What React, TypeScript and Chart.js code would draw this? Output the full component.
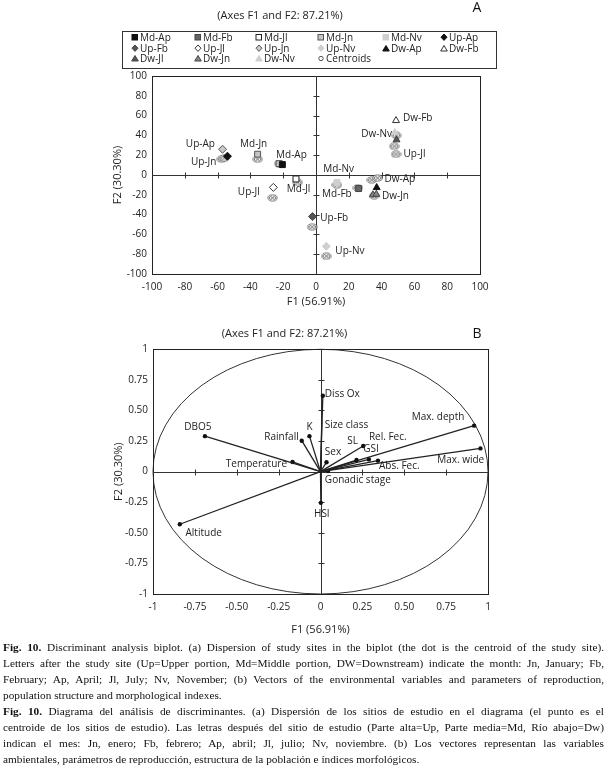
import React, { useEffect, useRef } from "react";
import { Chart, registerables } from "chart.js";
Chart.register(...registerables);

const FONT = "'Open Sans', 'Noto Sans', sans-serif";
const SERIF = "'Liberation Serif', 'DejaVu Serif', serif";

// ---------------- Chart A data ----------------
const titleA = "(Axes F1 and F2: 87.21%)";
const titleB = "(Axes F1 and F2: 87.21%)";
const axisTitleX = "F1 (56.91%)";
const axisTitleY = "F2 (30.30%)";

const siteNames = ["Md-Ap", "Md-Fb", "Md-Jl", "Md-Jn", "Md-Nv", "Up-Ap", "Up-Fb", "Up-Jl", "Up-Jn", "Up-Nv", "Dw-Ap", "Dw-Fb", "Dw-Jl", "Dw-Jn", "Dw-Nv"];

const pointSite = ["Md-Ap", "Md-Jn", "Md-Jn", "Md-Jl", "Md-Nv", "Md-Fb", "Up-Ap", "Up-Jn", "Up-Jl", "Up-Fb", "Up-Nv", "Dw-Fb", "Dw-Nv", "Dw-Jl", "Dw-Ap", "Dw-Jn", "Dw-Jn"];
const pointF1 = [-20.5, -22.5, -35.6, -12.2, 12.8, 26, -54, -57, -26, -2.1, 6.3, 48.8, 48, 49.1, 37, 34.7, 36.8];
const pointF2 = [10.5, 11.5, 21, -4, -7.5, -13.7, 19, 26, -12.5, -42, -72, 55, 43, 35.5, -12.7, -20, -19.5];

const centroidF1 = [-57.5, -56, -35.6, -22.5, -11.2, -26.5, 12.8, 25.5, -2.4, 6.3, 49, 47.7, 48.8, 34, 37.6, 35.5];
const centroidF2 = [16, 17, 16, 11.5, -7.5, -23, -10, -13, -52.5, -82, 40, 29, 21, -5, -3, -21];

const siteLabelText = ["Up-Ap", "Up-Jn", "Md-Jn", "Md-Ap", "Up-Jl", "Md-Jl", "Md-Nv", "Md-Fb", "Up-Fb", "Up-Nv", "Dw-Fb", "Dw-Nv", "Up-Jl", "Dw-Ap", "Dw-Jn"];
const siteLabelF1 = [-70.5, -68.5, -38, -15, -41, -10.6, 13.8, 3.7, 2.6, 11.8, 53, 46.3, 53.4, 41.8, 40.2];
const siteLabelF2 = [31, 12.5, 31, 20, -17.8, -14.4, 5.8, -19.5, -44, -76.8, 57, 41, 21, -4.3, -21.2];
const siteLabelAlign = ["center", "center", "center", "center", "center", "center", "center", "left", "left", "left", "left", "right", "left", "left", "left"];

// ---------------- Chart B data ----------------
const vectorNames = ["DBO5", "Rainfall", "K", "Temperature", "Altitude", "Diss Ox", "Size class", "Sex", "SL", "Rel. Fec.", "GSI", "Abs. Fec.", "Max. depth", "Max. wide", "Gonadic stage", "HSI"];
const vectorF1 = [-0.69, -0.112, -0.066, -0.167, -0.84, 0.014, 0.008, 0.036, 0.255, 0.215, 0.289, 0.343, 0.917, 0.955, 0.045, 0.002];
const vectorF2 = [0.29, 0.253, 0.29, 0.079, -0.43, 0.62, 0.42, 0.077, 0.21, 0.095, 0.1, 0.09, 0.376, 0.19, 0.005, -0.255];
const vectorLabelF1 = [-0.732, -0.13, -0.066, -0.2, -0.806, 0.026, 0.026, 0.026, 0.223, 0.289, 0.255, 0.349, 0.859, 0.977, 0.026, 0.008];
const vectorLabelF2 = [0.367, 0.283, 0.362, 0.065, -0.503, 0.634, 0.379, 0.158, 0.253, 0.286, 0.183, 0.041, 0.444, 0.09, -0.073, -0.345];
const vectorLabelAlign = ["center", "right", "center", "right", "left", "left", "left", "left", "right", "left", "left", "left", "right", "right", "left", "center"];

const tickValuesB = [-1, -0.75, -0.5, -0.25, 0, 0.25, 0.5, 0.75, 1];
const tickLabelsB = ["-1", "-0.75", "-0.50", "-0.25", "0", "0.25", "0.50", "0.75", "1"];

// ---------------- caption ----------------
const captionEn = [
  " Discriminant analysis biplot. (a) Dispersion of study sites in the biplot (the dot is the centroid of the study site).",
  "Letters after the study site (Up=Upper portion, Md=Middle portion, DW=Downstream) indicate the month: Jn, January; Fb,",
  "February; Ap, April; Jl, July; Nv, November; (b) Vectors of the environmental variables and parameters of reproduction,",
  "population structure and morphological indexes.",
];
const captionEs = [
  " Diagrama del análisis de discriminantes. (a) Dispersión de los sitios de estudio en el diagrama (el punto es el",
  "centroide de los sitios de estudio). Las letras después del sitio de estudio (Parte alta=Up, Parte media=Md, Río abajo=Dw)",
  "indican el mes: Jn, enero; Fb, febrero; Ap, abril; Jl, julio; Nv, noviembre. (b) Los vectores representan las variables",
  "ambientales, parámetros de reproducción, estructura de la población e índices morfológicos.",
];

type Sty = { shape: string; fill: string; stroke: string };
const siteStyle: Record<string, Sty> = {
  "Md-Ap": { shape: "rect", fill: "#111", stroke: "#111" },
  "Md-Fb": { shape: "rect", fill: "#666", stroke: "#444" },
  "Md-Jl": { shape: "rect", fill: "#fff", stroke: "#222" },
  "Md-Jn": { shape: "rect", fill: "#c4c4c4", stroke: "#555" },
  "Md-Nv": { shape: "rect", fill: "#cfcfcf", stroke: "#cfcfcf" },
  "Up-Ap": { shape: "rectRot", fill: "#111", stroke: "#111" },
  "Up-Fb": { shape: "rectRot", fill: "#555", stroke: "#444" },
  "Up-Jl": { shape: "rectRot", fill: "#fff", stroke: "#333" },
  "Up-Jn": { shape: "rectRot", fill: "#c8c8c8", stroke: "#555" },
  "Up-Nv": { shape: "rectRot", fill: "#cfcfcf", stroke: "#cfcfcf" },
  "Dw-Ap": { shape: "triangle", fill: "#111", stroke: "#111" },
  "Dw-Fb": { shape: "triangle", fill: "#fff", stroke: "#333" },
  "Dw-Jl": { shape: "triangle", fill: "#555", stroke: "#444" },
  "Dw-Jn": { shape: "triangle", fill: "#888", stroke: "#444" },
  "Dw-Nv": { shape: "triangle", fill: "#cfcfcf", stroke: "#cfcfcf" },
};

function frameAndAxes(id: string, crossTick: number) {
  return {
    id,
    beforeDatasetsDraw(chart: any) {
      const { ctx, chartArea: a, scales } = chart;
      const xs = scales.x, ys = scales.y;
      const x0 = Math.round(xs.getPixelForValue(0)) + 0.5;
      const y0 = Math.round(ys.getPixelForValue(0)) + 0.5;
      ctx.save();
      ctx.strokeStyle = "#222";
      ctx.lineWidth = 1;
      ctx.strokeRect(Math.round(a.left) + 0.5, Math.round(a.top) + 0.5, Math.round(a.right - a.left), Math.round(a.bottom - a.top));
      ctx.strokeStyle = "#333";
      ctx.beginPath();
      ctx.moveTo(a.left, y0); ctx.lineTo(a.right, y0);
      ctx.moveTo(x0, a.top); ctx.lineTo(x0, a.bottom);
      xs.ticks.forEach((t: any) => {
        if (t.value === 0 || t.value === xs.min || t.value === xs.max) return;
        const px = Math.round(xs.getPixelForValue(t.value)) + 0.5;
        ctx.moveTo(px, y0 - crossTick); ctx.lineTo(px, y0 + crossTick);
      });
      ys.ticks.forEach((t: any) => {
        if (t.value === 0 || t.value === ys.min || t.value === ys.max) return;
        const py = Math.round(ys.getPixelForValue(t.value)) + 0.5;
        ctx.moveTo(x0 - crossTick, py); ctx.lineTo(x0 + crossTick, py);
      });
      ctx.stroke();
      ctx.restore();
    },
  };
}

function textLabels(id: string, texts: string[], xs: number[], ys: number[], aligns: string[], font: string, corner: string) {
  return {
    id,
    afterDatasetsDraw(chart: any) {
      const { ctx, scales } = chart;
      ctx.save();
      ctx.font = font;
      ctx.fillStyle = "#222";
      ctx.textBaseline = "middle";
      texts.forEach((t, i) => {
        ctx.textAlign = aligns[i];
        ctx.fillText(t, scales.x.getPixelForValue(xs[i]), scales.y.getPixelForValue(ys[i]));
      });
      ctx.font = `14px ${FONT}`;
      ctx.textAlign = "center";
      ctx.fillStyle = "#111";
      ctx.fillText(corner, 477, chart.options.cornerY);
      ctx.restore();
    },
  };
}

const ellipsePlugin = {
  id: "unitCircle",
  beforeDatasetsDraw(chart: any) {
    const { ctx, scales } = chart;
    const cx = scales.x.getPixelForValue(0), cy = scales.y.getPixelForValue(0);
    const rx = scales.x.getPixelForValue(1) - cx, ry = cy - scales.y.getPixelForValue(1);
    ctx.save();
    ctx.strokeStyle = "#333";
    ctx.lineWidth = 1;
    ctx.beginPath();
    ctx.ellipse(cx, cy, rx, ry, 0, 0, Math.PI * 2);
    ctx.stroke();
    ctx.restore();
  },
};

function LegendMarker({ name }: { name: string }) {
  if (name === "Centroids") {
    return (
      <svg width="8" height="8" style={{ display: "block" }}>
        <circle cx="4" cy="4.5" r="2.2" fill="#fff" stroke="#555" strokeWidth="1" />
      </svg>
    );
  }
  const s = siteStyle[name];
  let shape: any;
  if (s.shape === "rect") shape = <rect x="1" y="1.5" width="5.5" height="5.5" fill={s.fill} stroke={s.stroke} strokeWidth="1" />;
  else if (s.shape === "rectRot") shape = <polygon points="4,1 7,4.2 4,7.4 1,4.2" fill={s.fill} stroke={s.stroke} strokeWidth="1" />;
  else shape = <polygon points="4,1.5 7.3,7 0.7,7" fill={s.fill} stroke={s.stroke} strokeWidth="1" />;
  return (
    <svg width="8" height="8" style={{ display: "block" }}>
      {shape}
    </svg>
  );
}

export default function App() {
  const refA = useRef<HTMLCanvasElement>(null);
  const refB = useRef<HTMLCanvasElement>(null);

  useEffect(() => {
    // centroid symbol
    const cen = document.createElement("canvas");
    cen.width = 11; cen.height = 8;
    const g = cen.getContext("2d")!;
    g.fillStyle = "#fff";
    g.strokeStyle = "#666"; g.lineWidth = 0.9;
    g.beginPath(); g.ellipse(5.5, 4, 4.6, 3.1, 0, 0, Math.PI * 2); g.fill(); g.stroke();
    g.beginPath(); g.ellipse(3.7, 4, 1.4, 1.5, 0, 0, Math.PI * 2); g.stroke();
    g.beginPath(); g.ellipse(7.3, 4, 1.4, 1.5, 0, 0, Math.PI * 2); g.stroke();

    const datasetsA: any[] = [
      {
        label: "Centroids",
        data: centroidF1.map((x, i) => ({ x, y: centroidF2[i] })),
        pointStyle: cen,
        pointRadius: 4,
        order: 1,
      },
    ];
    siteNames.forEach((n) => {
      const s = siteStyle[n];
      const data = pointSite
        .map((p, i) => (p === n ? { x: pointF1[i], y: pointF2[i] } : null))
        .filter((d) => d) as any[];
      datasetsA.push({
        label: n,
        data,
        order: 0,
        pointStyle: s.shape,
        pointRadius: s.shape === "rect" ? 4.2 : 4,
        backgroundColor: s.fill,
        borderColor: s.stroke,
        borderWidth: 1,
      });
    });

    const tickFont = { family: FONT, size: 10 };
    const titleFont = { family: FONT, size: 11, weight: "normal" };

    const chartA = new Chart(refA.current!, {
      type: "scatter",
      data: { datasets: datasetsA },
      options: {
        animation: false,
        responsive: false,
        events: [],
        cornerY: 8,
        layout: { padding: { left: 80, right: 134, top: 0, bottom: 0 } },
        plugins: {
          legend: { display: false },
          tooltip: { enabled: false },
          title: { display: true, text: titleA, font: titleFont, color: "#222", padding: { top: 9, bottom: 53.8 } },
        },
        scales: {
          x: {
            min: -100, max: 100,
            ticks: { stepSize: 20, font: tickFont, color: "#222", padding: 7, maxRotation: 0 },
            grid: { display: false, drawTicks: false },
            border: { display: false },
            title: { display: true, text: axisTitleX, font: titleFont, color: "#222", padding: { top: 0, bottom: 3.5 } },
            afterFit: (s: any) => { s.height = 38; },
          },
          y: {
            min: -100, max: 100,
            ticks: { stepSize: 20, font: tickFont, color: "#222", padding: 5 },
            grid: { display: false, drawTicks: false },
            border: { display: false },
            title: { display: true, text: axisTitleY, font: titleFont, color: "#222", padding: { top: 31.4, bottom: 0 } },
            afterFit: (s: any) => { s.width = 72; },
          },
        },
      } as any,
      plugins: [frameAndAxes("axesA", 3), textLabels("labelsA", siteLabelText, siteLabelF1, siteLabelF2, siteLabelAlign, `10px ${FONT}`, "A")],
    });

    const datasetsB: any[] = vectorNames.map((n, i) => ({
      label: n,
      data: [{ x: 0, y: 0 }, { x: vectorF1[i], y: vectorF2[i] }],
      showLine: true,
      borderColor: "#222",
      borderWidth: 1.3,
      backgroundColor: "#111",
      pointBorderWidth: 0,
      pointRadius: [0, n === "Size class" ? 0 : 2.2],
    }));

    const fmtB = (v: any) => {
      const idx = tickValuesB.findIndex((t) => Math.abs(t - v) < 1e-9);
      return idx >= 0 ? tickLabelsB[idx] : "";
    };

    const chartB = new Chart(refB.current!, {
      type: "scatter",
      data: { datasets: datasetsB },
      options: {
        animation: false,
        responsive: false,
        events: [],
        cornerY: 14,
        layout: { padding: { left: 81, right: 126, top: 0, bottom: 0 } },
        plugins: {
          legend: { display: false },
          tooltip: { enabled: false },
          title: { display: true, text: titleB, font: titleFont, color: "#222", padding: { top: 7.4, bottom: 8.7 } },
        },
        scales: {
          x: {
            min: -1, max: 1,
            ticks: { stepSize: 0.25, font: tickFont, color: "#222", padding: 7, maxRotation: 0, callback: fmtB },
            grid: { display: false, drawTicks: false },
            border: { display: false },
            title: { display: true, text: axisTitleX, font: titleFont, color: "#222", padding: { top: 0, bottom: 3.4 } },
            afterFit: (s: any) => { s.height = 46; },
          },
          y: {
            min: -1, max: 1,
            ticks: { stepSize: 0.25, font: tickFont, color: "#222", padding: 5, callback: fmtB },
            grid: { display: false, drawTicks: false },
            border: { display: false },
            title: { display: true, text: axisTitleY, font: titleFont, color: "#222", padding: { top: 31.4, bottom: 0 } },
            afterFit: (s: any) => { s.width = 72; },
          },
        },
      } as any,
      plugins: [ellipsePlugin, frameAndAxes("axesB", 3), textLabels("labelsB", vectorNames, vectorLabelF1, vectorLabelF2, vectorLabelAlign, `10px ${FONT}`, "B")],
    });

    return () => {
      chartA.destroy();
      chartB.destroy();
    };
  }, []);

  const legendItems = [...siteNames, "Centroids"];
  const colX = [12, 75, 136, 198, 263, 321];

  const lineStyle = (last: boolean): React.CSSProperties => ({
    textAlign: last ? "left" : "justify",
    textAlignLast: last ? "left" : "justify",
    height: 16,
    lineHeight: "16px",
    whiteSpace: "nowrap",
  } as any);

  return (
    <div style={{ position: "absolute", left: 0, top: 0, width: 614, height: 771, background: "#fff", overflow: "hidden" }}>
      <canvas ref={refA} width={614} height={312} style={{ position: "absolute", left: 0, top: 0, width: 614, height: 312 }} />
      <div
        style={{
          position: "absolute", left: 122, top: 31, width: 373, height: 36,
          border: "1px solid #333", background: "#fff", fontFamily: FONT, fontSize: 10, color: "#222",
        }}
      >
        {legendItems.map((n, i) => {
          const r = Math.floor(i / 6), c = i % 6;
          return (
            <div key={n} style={{ position: "absolute", left: colX[c] - 4, top: r * 10.7 - 1, height: 12, display: "flex", alignItems: "center", lineHeight: "12px", whiteSpace: "nowrap" }}>
              <LegendMarker name={n} />
              <span style={{ marginLeft: 1 }}>{n}</span>
            </div>
          );
        })}
      </div>
      <canvas ref={refB} width={614} height={320} style={{ position: "absolute", left: 0, top: 320, width: 614, height: 320 }} />
      <div style={{ position: "absolute", left: 3, top: 639, width: 601, fontFamily: SERIF, fontSize: 11.3, color: "#111" }}>
        {captionEn.map((l, i) => (
          <div key={"en" + i} style={lineStyle(i === captionEn.length - 1)}>
            {i === 0 ? <b>Fig. 10.</b> : null}
            {l}
          </div>
        ))}
        {captionEs.map((l, i) => (
          <div key={"es" + i} style={lineStyle(i === captionEs.length - 1)}>
            {i === 0 ? <b>Fig. 10.</b> : null}
            {l}
          </div>
        ))}
      </div>
    </div>
  );
}
